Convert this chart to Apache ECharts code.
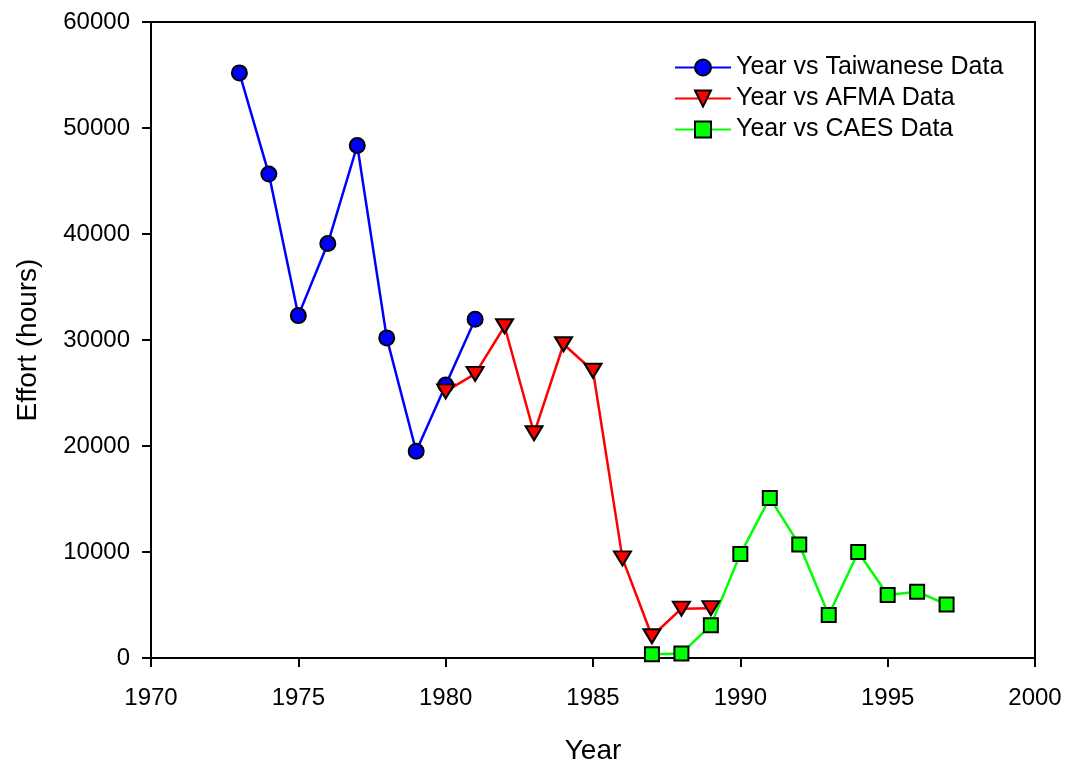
<!DOCTYPE html>
<html>
<head>
<meta charset="utf-8">
<script src="https://cdn.jsdelivr.net/npm/echarts@6/dist/echarts.min.js"></script>
<style>
  html, body { margin: 0; padding: 0; background: #fff; }
  #chart { width: 1066px; height: 760px; }
</style>
</head>
<body>
<div id="chart"></div>
<script>
// years and effort values
const taiwanYears = [1973, 1974, 1975, 1976, 1977, 1978, 1979, 1980, 1981];
const taiwanEffort = [55200, 45650, 32300, 39100, 48350, 30200, 19500, 25750, 31950];

const afmaYears = [1980, 1981, 1982, 1983, 1984, 1985, 1986, 1987, 1988, 1989];
const afmaEffort = [25150, 26800, 31300, 21200, 29600, 27100, 9400, 2050, 4650, 4700];

const caesYears = [1987, 1988, 1989, 1990, 1991, 1992, 1993, 1994, 1995, 1996, 1997];
const caesEffort = [350, 420, 3100, 9800, 15100, 10700, 4050, 10000, 5950, 6250, 5050];

const font = "'Liberation Sans', Arial, sans-serif";

function pairs(xs, ys) {
    return xs.map((x, i) => [x, ys[i]]);
}

const chart = echarts.init(document.getElementById('chart'));
const option = {
    backgroundColor: '#fff',
    animation: false,
    grid: {
        left: 151, right: 31, top: 22, bottom: 102,
        outerBoundsMode: 'none', containLabel: false,
        show: true, borderColor: '#000', borderWidth: 2
    },
    legend: {
        orient: 'vertical',
        left: 669, top: 50,
        itemWidth: 56, itemHeight: 20, itemGap: 6,
        textStyle: {fontSize: 25, color: '#000', fontFamily: font},
        data: ['Year vs Taiwanese Data', 'Year vs AFMA Data', 'Year vs CAES Data']
    },
    xAxis: {
        type: 'value',
        min: 1970, max: 2000, interval: 5,
        name: 'Year', nameLocation: 'middle', nameGap: 79,
        nameTextStyle: {fontSize: 28, color: '#000', fontFamily: font},
        axisLine: {onZero: false, lineStyle: {color: '#000', width: 2}},
        axisTick: {show: true, inside: false, length: 9, lineStyle: {color: '#000', width: 2}},
        axisLabel: {fontSize: 24, color: '#000', fontFamily: font, margin: 28, formatter: v => String(v)},
        splitLine: {show: false}
    },
    yAxis: {
        type: 'value',
        min: 0, max: 60000, interval: 10000,
        name: 'Effort (hours)', nameLocation: 'middle', nameGap: 109,
        nameTextStyle: {fontSize: 28, color: '#000', fontFamily: font},
        axisLine: {show: true, lineStyle: {color: '#000', width: 2}},
        axisTick: {show: true, inside: false, length: 9, lineStyle: {color: '#000', width: 2}},
        axisLabel: {fontSize: 24, color: '#000', fontFamily: font, margin: 21, formatter: v => String(v)},
        splitLine: {show: false}
    },
    series: [
        {
            name: 'Year vs Taiwanese Data',
            type: 'line',
            data: pairs(taiwanYears, taiwanEffort),
            symbol: 'circle', symbolSize: 15,
            lineStyle: {color: '#0000ff', width: 2.5},
            itemStyle: {color: '#0000ff', borderColor: '#000', borderWidth: 2}
        },
        {
            name: 'Year vs AFMA Data',
            type: 'line',
            data: pairs(afmaYears, afmaEffort),
            symbol: 'triangle', symbolSize: [17, 14], symbolRotate: 180,
            lineStyle: {color: '#ff0000', width: 2.5},
            itemStyle: {color: '#ff0000', borderColor: '#000', borderWidth: 2}
        },
        {
            name: 'Year vs CAES Data',
            type: 'line',
            data: pairs(caesYears, caesEffort),
            symbol: 'rect', symbolSize: 14,
            lineStyle: {color: '#00ff00', width: 2.5},
            itemStyle: {color: '#00ff00', borderColor: '#000', borderWidth: 2}
        }
    ]
};
chart.setOption(option);
</script>
</body>
</html>
